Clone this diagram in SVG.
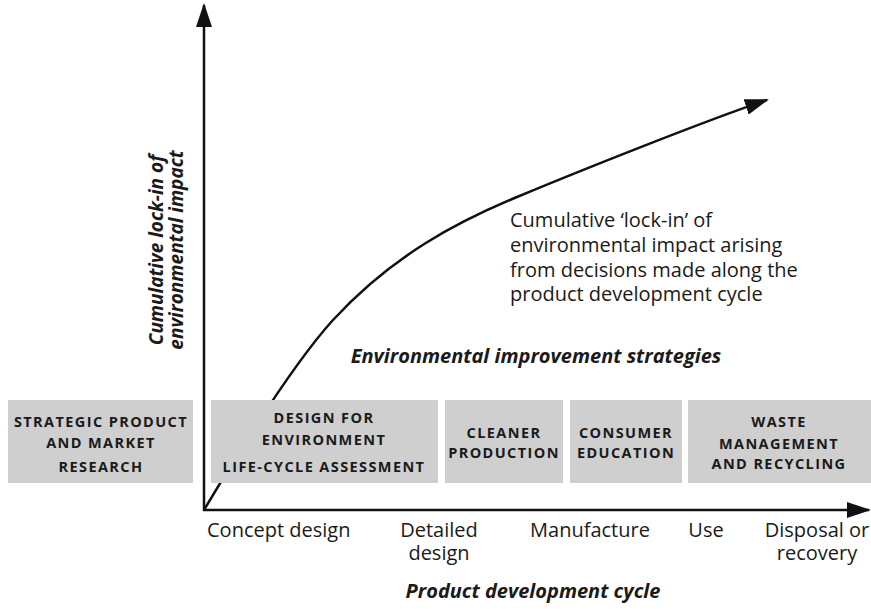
<svg xmlns="http://www.w3.org/2000/svg" width="871" height="609" viewBox="0 0 871 609">
<style>
text{font-family:"Open Sans","Noto Sans",sans-serif;fill:#1a1a1a}
.box{fill:#cfcfcf}
.bt{font-size:14.5px;font-weight:bold;text-anchor:middle;letter-spacing:1.4px}
.lbl{font-size:20px}
.bi{font-size:20px;font-weight:bold;font-style:italic}
.yl{font-size:19px;font-weight:bold;font-style:italic}
.ax{stroke:#111;stroke-width:2.5;fill:none}
</style>
<defs>
<marker id="ah2" markerWidth="24" markerHeight="16" refX="22" refY="8" orient="auto" markerUnits="userSpaceOnUse" viewBox="0 0 24 16">
<path d="M0,0 L24,8 L0,16 Z" fill="#111"/>
</marker>
</defs>
<g id="connectors">
<path class="ax" d="M204,510 C244,443 293,364 333,320 C393,255 457,222 517,197 C577,172 707,120 767,100" marker-end="url(#ah2)"/>
<line class="ax" x1="204" y1="511" x2="204" y2="5" marker-end="url(#ah2)"/>
<line class="ax" x1="203" y1="510" x2="869" y2="510" marker-end="url(#ah2)"/>
</g>
<g id="strategic"><rect class="box" x="8" y="400" width="185" height="83"/>
<text class="bt" x="101" y="427">STRATEGIC PRODUCT</text>
<text class="bt" x="101" y="448">AND MARKET</text>
<text class="bt" x="101" y="472">RESEARCH</text></g>
<g id="dfe"><rect class="box" x="211" y="400" width="227" height="83"/>
<text class="bt" x="324" y="423">DESIGN FOR</text>
<text class="bt" x="324" y="445">ENVIRONMENT</text>
<text class="bt" x="324" y="472">LIFE-CYCLE ASSESSMENT</text></g>
<g id="cleaner"><rect class="box" x="445" y="400" width="118" height="83"/>
<text class="bt" x="504" y="438">CLEANER</text>
<text class="bt" x="504" y="458">PRODUCTION</text></g>
<g id="consumer"><rect class="box" x="570" y="400" width="112" height="83"/>
<text class="bt" x="626" y="438">CONSUMER</text>
<text class="bt" x="626" y="458">EDUCATION</text></g>
<g id="waste"><rect class="box" x="688" y="400" width="183" height="83"/>
<text class="bt" x="779" y="427">WASTE</text>
<text class="bt" x="779" y="449">MANAGEMENT</text>
<text class="bt" x="779" y="469">AND RECYCLING</text></g>
<g id="curve-label">
<text class="lbl" x="510" y="227">Cumulative ‘lock-in’ of</text>
<text class="lbl" x="510" y="252">environmental impact arising</text>
<text class="lbl" x="510" y="277">from decisions made along the</text>
<text class="lbl" x="510" y="301">product development cycle</text>
</g>
<text class="bi" x="536" y="363" text-anchor="middle">Environmental improvement strategies</text>
<g id="y-label" transform="translate(168,250) rotate(-90)">
<text class="yl" x="0" y="-5" text-anchor="middle">Cumulative lock-in of</text>
<text class="yl" x="0" y="15" text-anchor="middle">environmental impact</text>
</g>
<g id="x-labels">
<text class="lbl" x="207" y="537">Concept design</text>
<text class="lbl" x="439" y="537" text-anchor="middle">Detailed</text>
<text class="lbl" x="439" y="560" text-anchor="middle">design</text>
<text class="lbl" x="590" y="537" text-anchor="middle">Manufacture</text>
<text class="lbl" x="706" y="537" text-anchor="middle">Use</text>
<text class="lbl" x="817" y="537" text-anchor="middle">Disposal or</text>
<text class="lbl" x="817" y="560" text-anchor="middle">recovery</text>
</g>
<text class="bi" x="533" y="598" text-anchor="middle">Product development cycle</text>
</svg>
